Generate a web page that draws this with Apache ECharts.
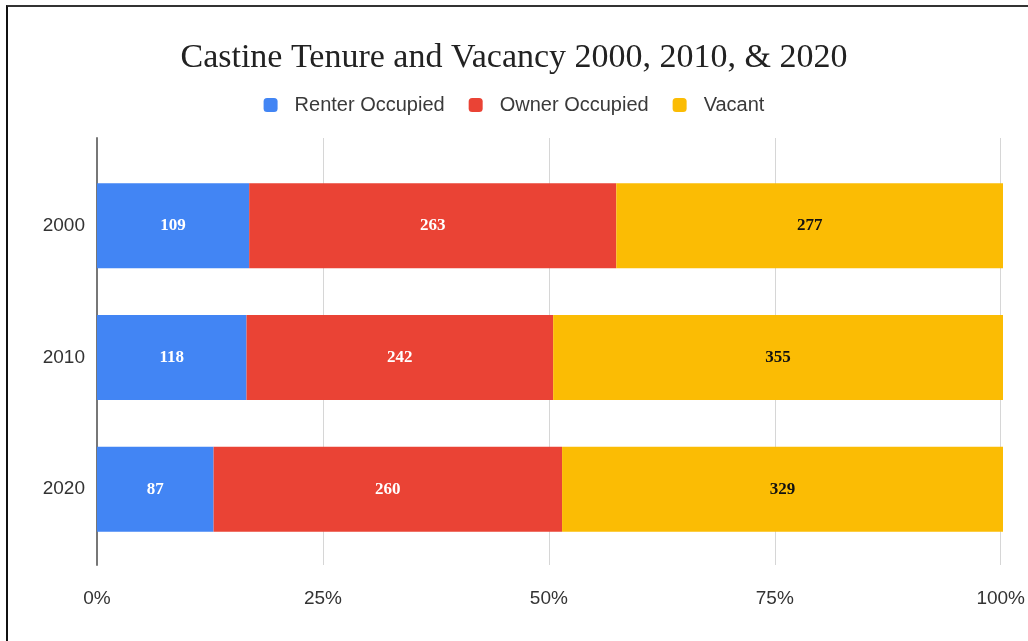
<!DOCTYPE html>
<html>
<head>
<meta charset="utf-8">
<script src="https://cdn.jsdelivr.net/npm/echarts@6/dist/echarts.min.js"></script>
<style>
  html, body { margin: 0; padding: 0; background: #fff; overflow: hidden; }
  #frame { position: absolute; left: 6px; top: 5px; width: 1100px; height: 700px;
           border-top: 2px solid #333; border-left: 2px solid #111; }
  #chart { position: absolute; left: 0; top: 0; width: 1028px; height: 641px; }
</style>
</head>
<body>
<div id="frame"></div>
<div id="chart"></div>
<script>
// Housing units in Castine by tenure
const years = ['2000', '2010', '2020'];
const renterOccupied = [109, 118, 87];
const ownerOccupied = [263, 242, 260];
const vacant = [277, 355, 329];
const percentTicks = ['0%', '25%', '50%', '75%', '100%'];

const seriesDefs = [
  { name: 'Renter Occupied', values: renterOccupied, color: '#4285F4', text: '#ffffff' },
  { name: 'Owner Occupied', values: ownerOccupied, color: '#EA4335', text: '#ffffff' },
  { name: 'Vacant', values: vacant, color: '#FBBC04', text: '#111111' }
];

const totals = years.map((_, i) => seriesDefs.reduce((s, d) => s + d.values[i], 0));

const chart = echarts.init(document.getElementById('chart'), null, { renderer: 'canvas' });

chart.setOption({
  backgroundColor: 'transparent',
  animation: false,
  title: {
    text: 'Castine Tenure and Vacancy 2000, 2010, & 2020',
    left: 'center',
    top: 36,
    textStyle: { fontFamily: 'Liberation Serif', fontWeight: 'normal', fontSize: 34, color: '#222' }
  },
  legend: {
    top: 90,
    left: 'center',
    itemWidth: 14,
    itemHeight: 14,
    itemGap: 24,
    icon: 'roundRect',
    textStyle: { fontFamily: 'Liberation Sans', fontSize: 20, color: '#3a3a3a', padding: [0, 0, 0, 12] },
    data: seriesDefs.map(d => d.name)
  },
  grid: [
    { left: 97, right: 25, top: 160, bottom: 86 },
    { left: 97, right: 25, top: 138, bottom: 76 }
  ],
  xAxis: [
    {
      gridIndex: 0, type: 'value', min: 0, max: 1,
      show: false
    },
    {
      gridIndex: 1, type: 'value', min: 0, max: 1, interval: 0.25,
      axisLine: { show: false }, axisTick: { show: false },
      splitLine: { lineStyle: { color: '#d6d6d6', width: 1 } },
      axisLabel: {
        margin: 24, fontFamily: 'Liberation Sans', fontSize: 19, color: '#333',
        formatter: v => percentTicks[Math.round(v * 4)]
      }
    }
  ],
  yAxis: [
    {
      gridIndex: 0, type: 'category', data: years, inverse: true,
      axisLine: { show: false }, axisTick: { show: false },
      axisLabel: { margin: 12, fontFamily: 'Liberation Sans', fontSize: 19, color: '#333' }
    },
    {
      gridIndex: 1, type: 'value', min: 0, max: 1, show: true,
      axisLine: { show: true, lineStyle: { color: '#777', width: 2 } },
      axisTick: { show: false }, axisLabel: { show: false }, splitLine: { show: false }
    }
  ],
  series: seriesDefs.map(d => ({
    name: d.name,
    type: 'bar',
    stack: 'tenure',
    xAxisIndex: 0,
    yAxisIndex: 0,
    barWidth: 85,
    itemStyle: { color: d.color },
    label: {
      show: true,
      position: 'inside',
      fontFamily: 'Liberation Serif',
      fontWeight: 'bold',
      fontSize: 17,
      color: d.text,
      formatter: p => d.values[p.dataIndex]
    },
    data: d.values.map((v, i) => v / totals[i])
  }))
});
</script>
</body>
</html>
